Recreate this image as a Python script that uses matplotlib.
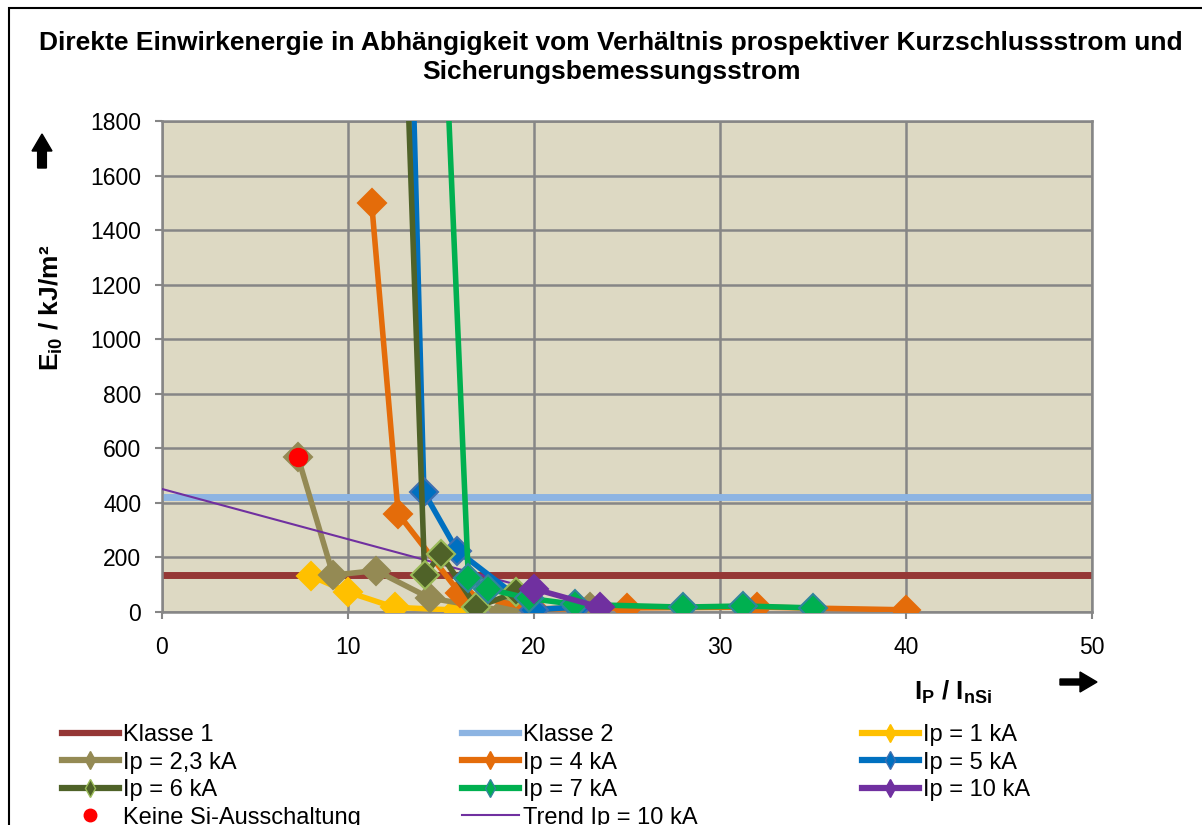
import matplotlib
matplotlib.use("Agg")
import matplotlib.pyplot as plt
from matplotlib.lines import Line2D
from matplotlib.patches import Rectangle, FancyArrow

plt.rcParams['font.family'] = ['Liberation Sans', 'DejaVu Sans']
plt.rcParams['mathtext.fontset'] = 'custom'
plt.rcParams['mathtext.rm'] = 'Liberation Sans'
plt.rcParams['mathtext.bf'] = 'Liberation Sans:bold'

# Schutzklassen (Box-Test) in kJ/m2
klasse_1 = 135
klasse_2 = 423

# Ip = 1 kA
x_1 = [8.0, 10.0, 12.5, 15.87]
y_1 = [132, 73, 17, 7]
# Ip = 2,3 kA
x_23 = [7.3, 9.2, 11.5, 14.4, 18.4, 23.0]
y_23 = [570, 135, 152, 51, 5, 20]
# Ip = 4 kA
x_4 = [11.27, 12.7, 16.0, 20.0, 25.0, 32.0, 40.0]
y_4 = [1500, 360, 70, 10, 15, 18, 8]
# Ip = 5 kA
x_5 = [12.5, 14.08, 15.87, 20.0, 22.32]
y_5 = [4500, 440, 225, 8, 18]
# Ip = 6 kA
x_6 = [12.0, 14.12, 15.0, 16.9, 19.05]
y_6 = [4300, 135, 212, 18, 72]
# Ip = 7 kA
x_7 = [14.0, 16.47, 17.5, 19.72, 22.22, 28.0, 31.25, 35.0]
y_7 = [4100, 125, 85, 50, 28, 18, 22, 15]
# Ip = 10 kA
x_10 = [20.0, 23.53]
y_10 = [85, 18]
# keine Si-Ausschaltung
x_keine = [7.3]
y_keine = [570]
# Trend Ip = 10 kA
x_trend = [0, 23.53]
y_trend = [451, 18]

fig = plt.figure(figsize=(12.02, 8.25), dpi=100)
ax = fig.add_axes([162/1202, 1 - 612/825, 930/1202, 491/825])
ax.set_facecolor('#DDD9C3')

ax.plot([0, 50], [klasse_1, klasse_1], color='#953735', lw=5, label='Klasse 1', zorder=2)
ax.plot([0, 50], [klasse_2, klasse_2], color='#8DB4E2', lw=5, label='Klasse 2', zorder=2)

series = [
    (x_1, y_1, '#FFC000', '#FFC000', 'Ip = 1 kA'),
    (x_23, y_23, '#948A54', '#948A54', 'Ip = 2,3 kA'),
    (x_4, y_4, '#E46C0A', '#E46C0A', 'Ip = 4 kA'),
    (x_5, y_5, '#0070C0', '#3F6FB0', 'Ip = 5 kA'),
    (x_6, y_6, '#4F6228', '#9BBB59', 'Ip = 6 kA'),
    (x_7, y_7, '#00B050', '#31859C', 'Ip = 7 kA'),
    (x_10, y_10, '#7030A0', '#7030A0', 'Ip = 10 kA'),
]
handles = {}
for i, (xs, ys, col, edge, lab) in enumerate(series):
    ax.plot(xs, ys, color=col, lw=4, marker='D', markersize=14, markerfacecolor=col,
            markeredgecolor=edge, markeredgewidth=1.5, zorder=3 + i)
    handles[lab] = Line2D([], [], color=col, lw=4.5, marker='d', markersize=9,
                          markerfacecolor=col, markeredgecolor=edge, markeredgewidth=1)

ax.plot(x_trend, y_trend, color='#7030A0', lw=1.5, zorder=4.5)
ax.plot(x_keine, y_keine, 'o', color='#FF0000', markersize=13, zorder=12)

handles['Klasse 1'] = Line2D([], [], color='#953735', lw=4.5)
handles['Klasse 2'] = Line2D([], [], color='#8DB4E2', lw=4.5)
handles['Keine Si-Ausschaltung'] = Line2D([], [], ls='none', marker='o', color='#FF0000', markersize=9)
handles['Trend Ip = 10 kA'] = Line2D([], [], color='#7030A0', lw=1.5)

ax.set_xlim(0, 50)
ax.set_ylim(0, 1800)
ax.set_xticks(range(0, 51, 10))
ax.set_yticks(range(0, 1801, 200))
ax.grid(True, color='#868686', lw=1.8)
ax.set_axisbelow(True)
for sp in ax.spines.values():
    sp.set_color('#868686')
    sp.set_linewidth(1.8)
ax.tick_params(axis='both', direction='out', length=5, width=1.5, color='#868686',
               labelsize=16.5, labelcolor='black')
ax.tick_params(axis='y', pad=10)
ax.tick_params(axis='x', pad=12)

# Titel
fig.text(611/1202, 1 - 43/825, 'Direkte Einwirkenergie in Abhängigkeit vom Verhältnis prospektiver Kurzschlussstrom und',
         ha='center', va='center', fontsize=19, fontweight='bold')
fig.text(611/1202, 1 - 72/825, 'Sicherungsbemessungsstrom',
         ha='center', va='center', fontsize=19, fontweight='bold')

# Achsenbeschriftungen
fig.text(51/1202, 1 - 308/825, r'E$_{\mathbf{i0}}$ / kJ/m²', rotation=90,
         ha='center', va='center', fontsize=19, fontweight='bold')
fig.text(953/1202, 1 - 692/825, r'I$_{\mathbf{P}}$ / I$_{\mathbf{nSi}}$',
         ha='center', va='center', fontsize=18.5, fontweight='bold')

fig.patches.append(FancyArrow(42/1202, 1 - 168/825, 0, 34/825, width=6/825, head_width=20/1202,
                              head_length=17/825, length_includes_head=True, color='black',
                              transform=fig.transFigure, figure=fig))
fig.patches.append(FancyArrow(1060/1202, 1 - 682/825, 37/1202, 0, width=6/825, head_width=20/825,
                              head_length=17/1202, length_includes_head=True, color='black',
                              transform=fig.transFigure, figure=fig))

# Rahmen
fig.patches.append(Rectangle((9/1202, -0.05), 1.2, 1.05 - 8/825, fill=False, ec='black', lw=1.5,
                             transform=fig.transFigure, figure=fig))

# Legende in drei Spalten
columns = [
    (62, ['Klasse 1', 'Ip = 2,3 kA', 'Ip = 6 kA', 'Keine Si-Ausschaltung']),
    (462, ['Klasse 2', 'Ip = 4 kA', 'Ip = 7 kA', 'Trend Ip = 10 kA']),
    (862, ['Ip = 1 kA', 'Ip = 5 kA', 'Ip = 10 kA']),
]
for xpos, labels in columns:
    fig.legend([handles[l] for l in labels], labels, loc='upper left',
               bbox_to_anchor=(xpos/1202, 1 - 724/825), frameon=False, fontsize=17,
               borderpad=0, borderaxespad=0, handlelength=2.4, handletextpad=0.17,
               labelspacing=0.235)

fig.savefig('out.png', dpi=100)
